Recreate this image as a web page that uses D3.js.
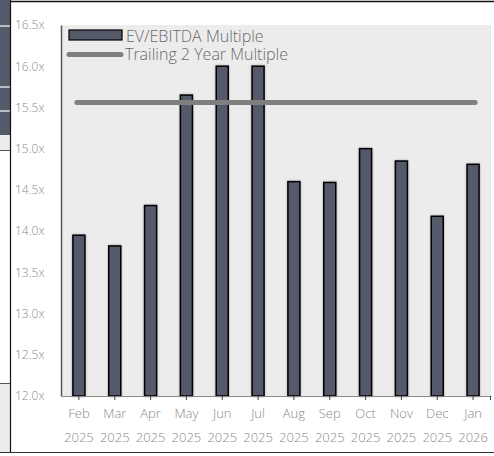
<!DOCTYPE html>
<html>
<head>
<meta charset="utf-8">
<script src="https://cdn.jsdelivr.net/npm/d3@7"></script>
<style>
  body { margin: 0; background: #fff; }
  svg { display: block; font-family: "Open Sans", sans-serif; }
</style>
</head>
<body>
<svg id="chart" width="494" height="456"></svg>
<script>
var months = ["Feb", "Mar", "Apr", "May", "Jun", "Jul", "Aug", "Sep", "Oct", "Nov", "Dec", "Jan"];
var years = ["2025", "2025", "2025", "2025", "2025", "2025", "2025", "2025", "2025", "2025", "2025", "2026"];
var multiple = [13.95, 13.82, 14.31, 15.65, 16.0, 16.0, 14.6, 14.59, 15.0, 14.85, 14.18, 14.81];
var trailing = 15.56;
var yTicks = [12.0, 12.5, 13.0, 13.5, 14.0, 14.5, 15.0, 15.5, 16.0, 16.5];

var svg = d3.select("#chart");
var barFill = "#555a6b";
var margin = {left: 61, right: 3, top: 25, bottom: 60};
var W = 494, H = 456;

// cropped table stripe on the left edge of the slide
svg.append("rect").attr("x", 0).attr("y", 0).attr("width", 10).attr("height", 135).attr("fill", barFill);
[26, 87, 111].forEach(function (y) {
  svg.append("line").attr("x1", 0).attr("x2", 10).attr("y1", y).attr("y2", y)
    .attr("stroke", "#fff").attr("stroke-width", 1.2);
});
svg.append("rect").attr("x", 0).attr("y", 135).attr("width", 10).attr("height", 15).attr("fill", "#ececec");
svg.append("line").attr("x1", 0).attr("x2", 10).attr("y1", 150.5).attr("y2", 150.5).attr("stroke", "#555").attr("stroke-width", 1);
svg.append("rect").attr("x", 0).attr("y", 383).attr("width", 10).attr("height", 69).attr("fill", "#ececec");
svg.append("line").attr("x1", 0).attr("x2", 10).attr("y1", 383.5).attr("y2", 383.5).attr("stroke", "#555").attr("stroke-width", 1);
svg.append("line").attr("x1", 10.5).attr("x2", 10.5).attr("y1", 0).attr("y2", 453).attr("stroke", "#111").attr("stroke-width", 1.2);
svg.append("line").attr("x1", 10).attr("x2", W).attr("y1", 1.5).attr("y2", 1.5).attr("stroke", "#111").attr("stroke-width", 1.5);
svg.append("line").attr("x1", 0).attr("x2", W).attr("y1", 452.5).attr("y2", 452.5).attr("stroke", "#333").attr("stroke-width", 1.2);

var x = d3.scaleBand().domain(d3.range(months.length))
  .range([margin.left, W - margin.right]).paddingInner(0).paddingOuter(0);
var y = d3.scaleLinear().domain([12, 16.5]).range([H - margin.bottom, margin.top]);

// plot background
svg.append("rect")
  .attr("x", margin.left).attr("y", y(16.5))
  .attr("width", x.range()[1] - margin.left).attr("height", y(12) - y(16.5))
  .attr("fill", "#ececec");

var defs = svg.append("defs");
var f = defs.append("filter").attr("id", "sh").attr("x", "-50%").attr("y", "-10%").attr("width", "200%").attr("height", "120%");
f.append("feDropShadow").attr("dx", 0).attr("dy", 0).attr("stdDeviation", 1.2).attr("flood-color", "#000").attr("flood-opacity", 0.35);

var bw = 12;
svg.append("g").selectAll("rect").data(multiple).join("rect")
  .attr("x", function (d, i) { return x(i) + x.bandwidth() / 2 - bw / 2; })
  .attr("y", function (d) { return y(d); })
  .attr("width", bw)
  .attr("height", function (d) { return y(12) - y(d); })
  .attr("fill", barFill)
  .attr("stroke", "#000").attr("stroke-width", 1.5)
  .attr("filter", "url(#sh)");

// trailing multiple line
svg.append("line")
  .attr("x1", x(0) + x.bandwidth() / 2 - 2).attr("x2", x(11) + x.bandwidth() / 2 + 2)
  .attr("y1", y(trailing)).attr("y2", y(trailing))
  .attr("stroke", "#7f7f7f").attr("stroke-width", 5).attr("stroke-linecap", "round");

// y axis
var yAxis = svg.append("g").attr("transform", "translate(" + margin.left + ",0)")
  .call(d3.axisLeft(y).tickValues(yTicks).tickSize(0).tickPadding(16)
    .tickFormat(function (d) { return d3.format(".1f")(d) + "x"; }));
yAxis.select(".domain").attr("stroke", "#555").attr("stroke-width", 1.5);
yAxis.selectAll("text").attr("fill", "#8a8a8a").attr("font-size", 12)
  .attr("font-family", "Open Sans").attr("font-weight", 300)
  .attr("text-anchor", "start").attr("x", -46);

// x axis
var xAxis = svg.append("g").attr("transform", "translate(0," + y(12) + ")")
  .call(d3.axisBottom(x).tickSize(4).tickSizeOuter(0).tickFormat(""));
xAxis.select(".domain").attr("stroke", "#888").attr("stroke-width", 1);
xAxis.selectAll(".tick line").attr("stroke", "#444");
svg.append("line").attr("x1", x.range()[1] - 0.5).attr("x2", x.range()[1] - 0.5)
  .attr("y1", y(12)).attr("y2", y(12) + 4).attr("stroke", "#444");

var lbl = svg.append("g").selectAll("text").data(months).join("text")
  .attr("x", function (d, i) { return x(i) + x.bandwidth() / 2; })
  .attr("y", y(12) + 22)
  .attr("text-anchor", "middle").attr("fill", "#8a8a8a")
  .attr("font-size", 13).attr("font-weight", 300);
lbl.append("tspan").text(function (d) { return d; });
lbl.append("tspan").attr("dy", 24)
  .attr("x", function (d, i) { return x(i) + x.bandwidth() / 2; })
  .text(function (d, i) { return years[i]; });

// legend
var lg = svg.append("g");
lg.append("rect").attr("x", 69).attr("y", 30).attr("width", 53).attr("height", 10)
  .attr("fill", barFill).attr("stroke", "#000").attr("stroke-width", 1.2);
lg.append("text").attr("x", 126).attr("y", 42).text("EV/EBITDA Multiple")
  .attr("fill", "#6a6a6a").attr("font-size", 16).attr("font-weight", 300);
lg.append("line").attr("x1", 69).attr("x2", 121).attr("y1", 54.5).attr("y2", 54.5)
  .attr("stroke", "#7f7f7f").attr("stroke-width", 5).attr("stroke-linecap", "round");
lg.append("text").attr("x", 125).attr("y", 60).text("Trailing 2 Year Multiple")
  .attr("fill", "#6a6a6a").attr("font-size", 16).attr("font-weight", 300);
</script>
</body>
</html>
